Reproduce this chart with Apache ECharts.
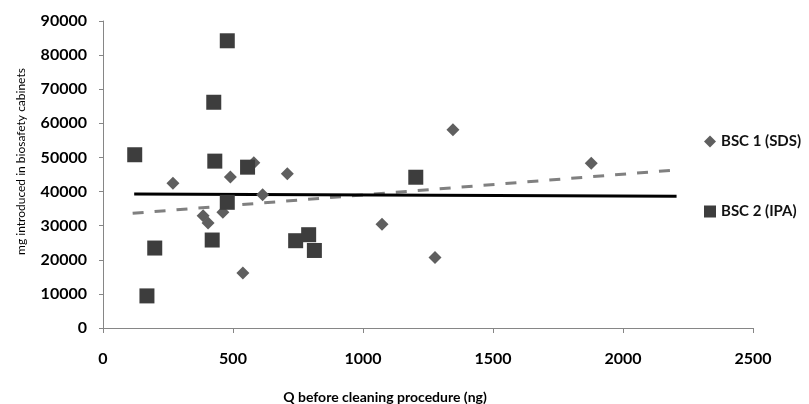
<!DOCTYPE html>
<html>
<head>
<meta charset="utf-8">
<script src="https://cdn.jsdelivr.net/npm/echarts@6/dist/echarts.min.js"></script>
<style>
    html, body { margin: 0; padding: 0; background: #fff; }
    #chart { width: 809px; height: 404px; }
</style>
</head>
<body>
<div id="chart"></div>
<script>
// BSC 1 (SDS) - diamonds
var sdsX = [269, 385, 404, 461, 490, 538, 580, 614, 709, 1073, 1277, 1346, 1878];
var sdsY = [42440, 32940, 30790, 33900, 44300, 16090, 48430, 39100, 45200, 30400, 20680, 58140, 48320];

// BSC 2 (IPA) - squares
var ipaX = [122, 169, 199, 420, 426, 430, 478, 478, 556, 741, 791, 813, 1203];
var ipaY = [50790, 9410, 23440, 25790, 66180, 48920, 84200, 36850, 47150, 25590, 27350, 22730, 44200];

// trendlines (end points)
var sdsTrendX = [114, 2210];
var sdsTrendY = [33620, 46380];
var ipaTrendX = [120, 2206];
var ipaTrendY = [39320, 38620];

function pairs(xs, ys) {
    var out = [];
    for (var i = 0; i < xs.length; i++) {
        out.push([xs[i], ys[i]]);
    }
    return out;
}

var myChart = echarts.init(document.getElementById('chart'));

var font = 'Lato, "Open Sans", sans-serif';

var option = {
    animation: false,
    grid: {
        left: 103,
        right: 56,
        top: 21,
        bottom: 76,
        containLabel: false,
        outerBoundsMode: 'none'
    },
    legend: {
        orient: 'vertical',
        left: 699,
        top: 129,
        itemGap: 55,
        itemWidth: 12,
        itemHeight: 12,
        textStyle: {
            fontFamily: font,
            fontSize: 15,
            fontWeight: 'bold',
            color: '#111'
        },
        data: [
            {name: 'BSC 1 (SDS)', icon: 'diamond', itemStyle: {color: '#5f5f5f'}},
            {name: 'BSC 2 (IPA)', icon: 'rect', itemStyle: {color: '#3d3d3d'}}
        ]
    },
    xAxis: {
        type: 'value',
        min: 0,
        max: 2500,
        interval: 500,
        name: 'Q before cleaning procedure (ng)',
        nameLocation: 'middle',
        nameGap: 62,
        nameTextStyle: {
            fontFamily: font,
            fontSize: 14,
            fontWeight: 'bold',
            color: '#000',
            padding: [0, 86, 0, 0]
        },
        axisLine: {lineStyle: {color: '#868686', width: 1}},
        axisTick: {show: true, length: 5, lineStyle: {color: '#868686'}},
        axisLabel: {
            margin: 23,
            fontFamily: font,
            fontSize: 16,
            fontWeight: 'bold',
            color: '#000',
            formatter: function (v) { return String(v); }
        },
        splitLine: {show: false}
    },
    yAxis: {
        type: 'value',
        min: 0,
        max: 90000,
        interval: 10000,
        name: 'mg introduced in biosafety cabinets',
        nameLocation: 'middle',
        nameGap: 76,
        nameTextStyle: {
            fontFamily: font,
            fontSize: 12,
            color: '#000',
            padding: [0, 0, 0, 26]
        },
        axisLine: {show: true, lineStyle: {color: '#868686', width: 1}},
        axisTick: {show: true, length: 4, lineStyle: {color: '#868686'}},
        axisLabel: {
            margin: 16,
            fontFamily: font,
            fontSize: 16,
            fontWeight: 'bold',
            color: '#000',
            formatter: function (v) { return String(v); }
        },
        splitLine: {show: false}
    },
    series: [
        {
            name: 'SDS trend',
            type: 'line',
            data: pairs(sdsTrendX, sdsTrendY),
            symbol: 'none',
            lineStyle: {color: '#808080', width: 3, type: [11, 11]},
            z: 1
        },
        {
            name: 'IPA trend',
            type: 'line',
            data: pairs(ipaTrendX, ipaTrendY),
            symbol: 'none',
            lineStyle: {color: '#000', width: 3},
            z: 1
        },
        {
            name: 'BSC 1 (SDS)',
            type: 'scatter',
            symbol: 'diamond',
            symbolSize: 13,
            itemStyle: {color: '#5f5f5f', opacity: 1},
            data: pairs(sdsX, sdsY),
            z: 3
        },
        {
            name: 'BSC 2 (IPA)',
            type: 'scatter',
            symbol: 'rect',
            symbolSize: 15,
            itemStyle: {color: '#3d3d3d', opacity: 1},
            data: pairs(ipaX, ipaY),
            z: 3
        }
    ]
};

myChart.setOption(option);
</script>
</body>
</html>
